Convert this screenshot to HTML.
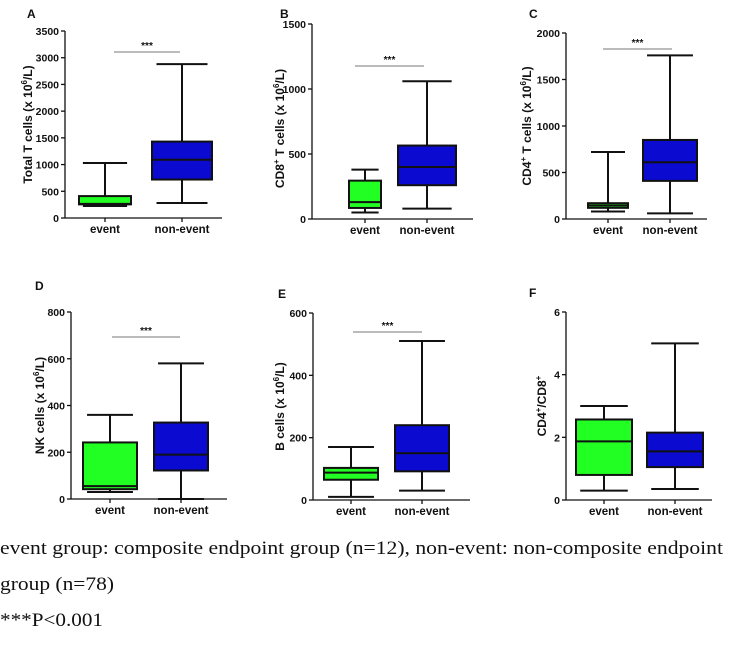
<!DOCTYPE html>
<html><head><meta charset="utf-8"><style>
body{margin:0;background:#fff;}
svg{display:block;}
.t{font-family:"Liberation Sans",Arial,sans-serif;font-weight:bold;fill:#111;}
.cap{font-family:"Liberation Serif","Times New Roman",serif;font-size:19px;fill:#111;}
</style></head><body>
<svg id="fig" width="729" height="657" viewBox="0 0 729 657">
<text class="cap" x="0" y="554" textLength="723" lengthAdjust="spacingAndGlyphs">event group: composite endpoint group (n=12), non-event: non-composite endpoint</text>
<text class="cap" x="0" y="590" textLength="114" lengthAdjust="spacingAndGlyphs">group (n=78)</text>
<text class="cap" x="0" y="626" textLength="103" lengthAdjust="spacingAndGlyphs">***P&lt;0.001</text>
</svg>
<script>
// data per panel: [min, q1, median, q3, max]
const categories = ["event", "non-event"];
const totalTEvent = [225, 255, 265, 410, 1030];
const totalTNon = [280, 720, 1090, 1430, 2880];
const cd8Event = [50, 85, 130, 295, 380];
const cd8Non = [80, 260, 400, 565, 1060];
const cd4Event = [80, 120, 145, 170, 720];
const cd4Non = [60, 410, 610, 850, 1760];
const nkEvent = [30, 42, 55, 242, 360];
const nkNon = [0, 122, 190, 327, 580];
const bEvent = [10, 65, 88, 103, 170];
const bNon = [30, 92, 150, 240, 510];
const ratioEvent = [0.3, 0.8, 1.87, 2.57, 3.0];
const ratioNon = [0.35, 1.05, 1.55, 2.15, 5.0];
const ticksA = [0, 500, 1000, 1500, 2000, 2500, 3000, 3500];
const ticksB = [0, 500, 1000, 1500];
const ticksC = [0, 500, 1000, 1500, 2000];
const ticksD = [0, 200, 400, 600, 800];
const ticksE = [0, 200, 400, 600];
const ticksF = [0, 2, 4, 6];

const NS = "http://www.w3.org/2000/svg";
const svg = document.getElementById("fig");
function mk(tag, attrs, parent) {
  const e = document.createElementNS(NS, tag);
  for (const k in attrs) e.setAttribute(k, attrs[k]);
  (parent || svg).appendChild(e);
  return e;
}
const sup = s => '<tspan dy="-5" font-size="8">' + s + '</tspan><tspan dy="5">';
const panels = [
  {id:"a", label:"A", lx:27, ly:18, ax:65, y0:218, y1:31, xend:222, cx:[105,182], hw:[26,30], ev:totalTEvent, nv:totalTNon, ticks:ticksA, tx:30, ty:0, title:'Total T cells (x 10' + sup('6') + '/L)</tspan>', sig:[114,180,52]},
  {id:"b", label:"B", lx:280, ly:18, ax:312, y0:219, y1:24, xend:473, cx:[365,427], hw:[16,29], ev:cd8Event, nv:cd8Non, ticks:ticksB, tx:282, ty:7, title:'CD8' + sup('+') + ' T cells (x 10</tspan>' + sup('6') + '/L)</tspan>', sig:[355,424,66]},
  {id:"c", label:"C", lx:529, ly:18, ax:566, y0:219, y1:33, xend:707, cx:[608,670], hw:[20,27], ev:cd4Event, nv:cd4Non, ticks:ticksC, tx:529, ty:0, title:'CD4' + sup('+') + ' T cells (x 10</tspan>' + sup('6') + '/L)</tspan>', sig:[603,672,49]},
  {id:"d", label:"D", lx:35, ly:290, ax:71, y0:499, y1:312, xend:227, cx:[110,181], hw:[27,27], ev:nkEvent, nv:nkNon, ticks:ticksD, tx:42, ty:0, title:'NK cells (x 10' + sup('6') + '/L)</tspan>', sig:[112,180,337]},
  {id:"e", label:"E", lx:278, ly:298, ax:313, y0:500, y1:313, xend:470, cx:[351,422], hw:[27,27], ev:bEvent, nv:bNon, ticks:ticksE, tx:282, ty:0, title:'B cells (x 10' + sup('6') + '/L)</tspan>', sig:[353,422,332]},
  {id:"f", label:"F", lx:529, ly:297, ax:566, y0:500, y1:312, xend:712, cx:[604,675], hw:[28,28], ev:ratioEvent, nv:ratioNon, ticks:ticksF, tx:544, ty:0, title:'CD4' + sup('+') + '/CD8</tspan>' + sup('+') + '</tspan>', sig:null}
];
panels.forEach(p => {
  const g = mk("g", {});
  
  
  const tmax = p.ticks[p.ticks.length - 1];
  const y = v => p.y0 - (v / tmax) * (p.y0 - p.y1);
  const lab = mk("text", {class:"t", x:p.lx, y:p.ly, "font-size":"12"}, g);
  lab.textContent = p.label;
  
  
  const yax = mk("line", {x1:p.ax, y1:p.y1, x2:p.ax, y2:p.y0, stroke:"#111", "stroke-width":1.3}, g);
  
  
  const xax = mk("line", {x1:p.ax, y1:p.y0, x2:p.xend, y2:p.y0, stroke:"#111", "stroke-width":1.3}, g);
  
  
  p.ticks.forEach(t => {
    mk("line", {x1:p.ax - 4, y1:y(t), x2:p.ax, y2:y(t), stroke:"#111", "stroke-width":1.3}, g);
    const tl = mk("text", {class:"t", x:p.ax - 6, y:y(t) + 4, "font-size":"10.5", "text-anchor":"end"}, g);
    tl.textContent = t;
    
    
  });
  const yc = (p.y0 + p.y1) / 2 + p.ty;
  const bx = p.tx + 2;
  const tt = mk("text", {class:"t", x:bx, y:yc, "font-size":"12", "text-anchor":"middle", transform:`rotate(-90 ${bx} ${yc})`}, g);
  tt.innerHTML = p.title;
  
  
  [p.ev, p.nv].forEach((d, i) => {
    const cx = p.cx[i], hw = p.hw[i];
    mk("line", {x1:cx, y1:p.y0, x2:cx, y2:p.y0 + 4, stroke:"#111", "stroke-width":1.3}, g);
    const cl = mk("text", {class:"t", x:cx, y:p.y0 + 15, "font-size":"11.5", "text-anchor":"middle"}, g);
    cl.textContent = categories[i];
    
    
    const bg = mk("g", {stroke:"#111", "stroke-width":2}, g);
    
    
    const cw = hw * 0.85;
    mk("line", {x1:cx, y1:y(d[0]), x2:cx, y2:y(d[4])}, bg);
    mk("line", {x1:cx - cw, y1:y(d[0]), x2:cx + cw, y2:y(d[0])}, bg);
    mk("line", {x1:cx - cw, y1:y(d[4]), x2:cx + cw, y2:y(d[4])}, bg);
    mk("rect", {x:cx - hw, y:y(d[3]), width:2 * hw, height:Math.max(1, y(d[1]) - y(d[3])), fill:i ? "#0a0ad0" : "#22ff22"}, bg);
    mk("line", {x1:cx - hw, y1:y(d[2]), x2:cx + hw, y2:y(d[2])}, bg);
  });
  if (p.sig) {
    const sl = mk("line", {x1:p.sig[0], y1:p.sig[2], x2:p.sig[1], y2:p.sig[2], stroke:"#777", "stroke-width":1}, g);
    
    
    const st = mk("text", {class:"t", x:(p.sig[0] + p.sig[1]) / 2, y:p.sig[2] - 3, "font-size":"10", "text-anchor":"middle"}, g);
    st.textContent = "***";
    
    
  }
});
</script>
</body></html>
